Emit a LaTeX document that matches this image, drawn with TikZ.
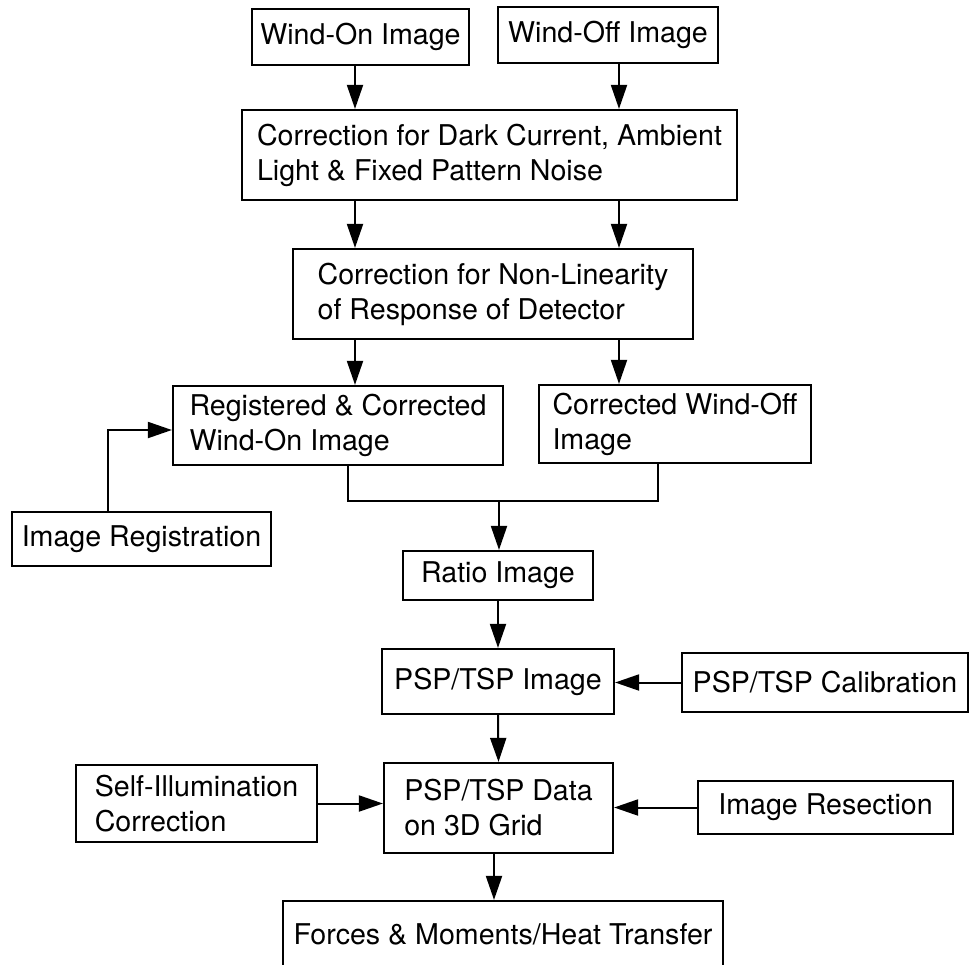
\documentclass[tikz,border=0pt]{standalone}
\usepackage{fontspec}
\setmainfont{TeX Gyre Heros}
\usetikzlibrary{arrows.meta}
\tikzset{
  box/.style={draw, line width=1.1pt, align=left, inner sep=0pt,
    font=\fontsize{14.3}{17.5}\selectfont},
  arr/.style={line width=1pt, -{Triangle[length=12pt,width=8pt]}},
  lin/.style={line width=1pt}
}
\begin{document}
\begin{tikzpicture}[x=0.5pt, y=-0.5pt]
  \def\Xa{355};
  \def\Xb{619};
  \def\Xc{494};
  \def\Ym{501};
  \useasboundingbox (0,0) rectangle (969,964);
  \clip (0,0) rectangle (969,964);

  % input images
  \node[box, minimum width=108.5pt, minimum height=28pt] (windon) at (360.5,37) {Wind-On Image};
  \node[box, minimum width=110pt, minimum height=28pt] (windoff) at (608,35) {Wind-Off Image};

  % corrections
  \node[box, minimum width=247.5pt, minimum height=45pt] (dark) at (489.5,155)
    {Correction for Dark Current, Ambient\\Light \& Fixed Pattern Noise};
  \node[box, minimum width=200pt, minimum height=45pt] (nonlin) at (493,294)
    {Correction for Non-Linearity\\of Response of Detector};
  \node[box, minimum width=165pt, minimum height=39.5pt] (reg) at (338,425.5)
    {Registered \& Corrected\\Wind-On Image};
  \node[box, minimum width=136pt, minimum height=39pt] (corroff) at (675,424)
    {Corrected Wind-Off\\Image};
  \node[box, minimum width=129.5pt, minimum height=27pt] (imgreg) at (141.5,539) {Image Registration};

  % ratio and data
  \node[box, minimum width=95pt, minimum height=24.5pt] (ratio) at (498,575.5) {Ratio Image};
  \node[box, minimum width=116pt, minimum height=32.5pt] (pspimg) at (498,681.5) {PSP/TSP Image};
  \node[box, minimum width=143pt, minimum height=29.5pt] (calib) at (825,682.5) {PSP/TSP Calibration};
  \node[box, minimum width=120.5pt, minimum height=38.5pt] (selfill) at (196.5,803.5)
    {Self-Illumination\\Correction};
  \node[box, minimum width=114.5pt, minimum height=45pt] (pspdata) at (498.5,808)
    {PSP/TSP Data\\on 3D Grid};
  \node[box, minimum width=127.5pt, minimum height=26.5pt] (resect) at (825.5,807.5) {Image Resection};
  \node[box, minimum width=220pt, minimum height=33pt] (forces) at (503,934)
    {Forces \& Moments/Heat Transfer};

  \coordinate (ca) at (\Xa,0);
  \coordinate (cb) at (\Xb,0);
  \coordinate (cc) at (\Xc,0);
  \coordinate (ml) at (348,\Ym);
  \coordinate (mr) at (658,\Ym);
  \coordinate (mc) at (499,\Ym);
  \coordinate (rg) at (108,430);

  \draw[arr] (windon.south -| ca) -- (dark.north -| ca);
  \draw[arr] (windoff.south -| cb) -- (dark.north -| cb);
  \draw[arr] (dark.south -| ca) -- (nonlin.north -| ca);
  \draw[arr] (dark.south -| cb) -- (nonlin.north -| cb);
  \draw[arr] (nonlin.south -| ca) -- (reg.north -| ca);
  \draw[arr] (nonlin.south -| cb) -- (corroff.north -| cb);
  \draw[arr] (imgreg.north -| rg) |- (reg.west |- rg);

  % merge into ratio
  \draw[lin] (reg.south -| ml) -- (ml) -- (mr) -- (corroff.south -| mr);
  \draw[arr] (mc) -- (ratio.north -| mc);

  \draw[arr] (ratio.south) -- (pspimg.north);
  \draw[arr] (calib.west) -- (pspimg.east |- calib.west);
  \draw[arr] (pspimg.south) -- (pspdata.north);
  \draw[arr] (selfill.east) -- (pspdata.west |- selfill.east);
  \draw[arr] (resect.west) -- (pspdata.east |- resect.west);
  \draw[arr] (pspdata.south -| cc) -- (forces.north -| cc);
\end{tikzpicture}
\end{document}
